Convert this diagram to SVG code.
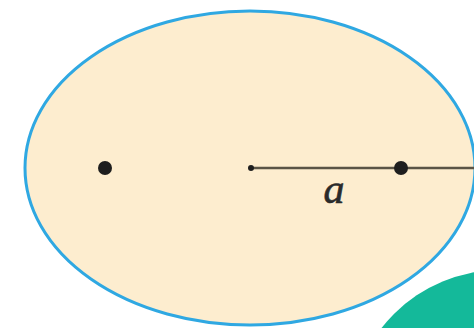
<svg xmlns="http://www.w3.org/2000/svg" width="474" height="328" viewBox="0 0 474 328">
<style>
.dot{fill:#1e1e1e}
.lbl{font-family:"Liberation Serif","DejaVu Serif",serif;font-style:italic;font-size:42px;fill:#2a2a2a;stroke:#2a2a2a;stroke-width:0.6}
</style>
<rect width="474" height="328" fill="#ffffff"/>
<g id="ellipse">
<ellipse cx="250" cy="168" rx="225" ry="157" fill="#fdedcf" stroke="#2fa8e2" stroke-width="3"/>
</g>
<g id="green">
<circle cx="500" cy="420" r="150" fill="#14b99a"/>
</g>
<g id="connectors">
<line x1="251" y1="168" x2="476" y2="168" stroke="#5a5446" stroke-width="2.4"/>
</g>
<g id="focus-left"><circle class="dot" cx="105" cy="168" r="7"/></g>
<g id="center"><circle class="dot" cx="251" cy="168" r="3"/></g>
<g id="focus-right"><circle class="dot" cx="401" cy="168" r="7"/></g>
<g id="label-a"><text class="lbl" x="334" y="203" text-anchor="middle">a</text></g>
</svg>
